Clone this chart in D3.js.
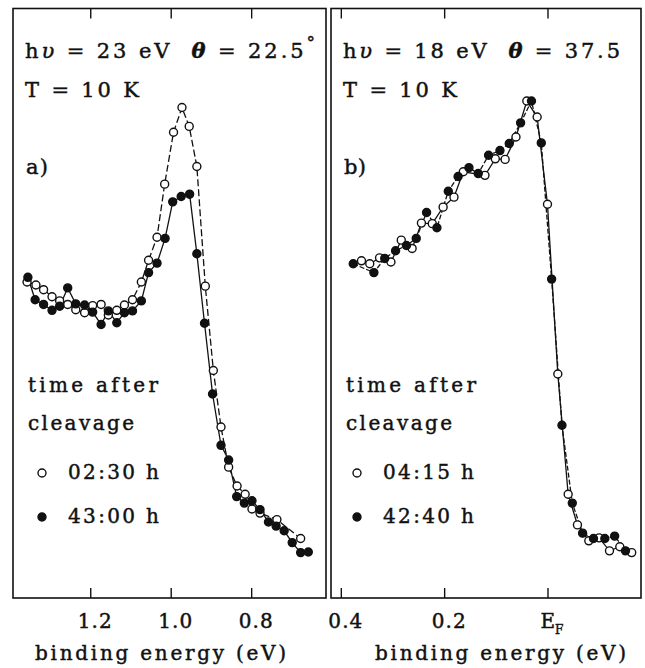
<!DOCTYPE html>
<html>
<head>
<meta charset="utf-8">
<script src="https://cdn.jsdelivr.net/npm/d3@7"></script>
<style>
  html, body { margin: 0; padding: 0; background: #fff; }
  svg text { font-family: 'DejaVu Serif', serif; fill: #111; white-space: pre; }
</style>
</head>
<body>
<svg id="chart" width="645" height="668"></svg>
<script>
// panel a) hv = 23 eV, theta = 22.5
const aOpenE = [1.357, 1.335, 1.316, 1.295, 1.276, 1.256, 1.236, 1.214, 1.194, 1.173, 1.155, 1.134, 1.115, 1.095, 1.073, 1.055, 1.034, 1.015, 0.993, 0.972, 0.954, 0.935, 0.914, 0.894, 0.875, 0.856, 0.835, 0.815, 0.798, 0.778, 0.736, 0.677]
const aOpenI = [53.6, 53.1, 52.3, 51.1, 50.4, 49.8, 48.9, 48.4, 49.6, 49.8, 48.0, 48.8, 49.7, 50.6, 53.6, 57.3, 61.2, 70.2, 79.0, 83.2, 80.0, 73.2, 52.9, 38.6, 29.0, 22.2, 19.0, 17.6, 15.1, 14.4, 13.3, 10.1]
const aFillE = [1.355, 1.337, 1.316, 1.295, 1.276, 1.256, 1.236, 1.214, 1.194, 1.173, 1.155, 1.134, 1.115, 1.095, 1.073, 1.055, 1.034, 1.014, 0.995, 0.974, 0.953, 0.935, 0.916, 0.896, 0.875, 0.856, 0.836, 0.817, 0.798, 0.778, 0.757, 0.738, 0.718, 0.698, 0.677, 0.658]
const aFillI = [54.4, 50.6, 49.8, 48.8, 49.5, 52.6, 49.9, 49.7, 48.5, 46.4, 48.7, 46.7, 48.4, 48.7, 50.4, 55.2, 56.8, 61.0, 67.2, 68.1, 68.5, 58.4, 46.6, 34.6, 25.9, 23.4, 17.2, 16.1, 16.5, 15.0, 12.9, 12.2, 11.4, 9.4, 7.7, 7.8]
const aTicks = [1.2, 1.0, 0.8]
const aLegend = ['02:30 h', '43:00 h']

// panel b) hv = 18 eV, theta = 37.5
const bOpenE = [0.360, 0.344, 0.325, 0.303, 0.283, 0.262, 0.244, 0.223, 0.202, 0.181, 0.163, 0.121, 0.101, 0.082, 0.061, 0.040, 0.020, 0.000, -0.020, -0.040, -0.058, -0.080, -0.100, -0.120, -0.140, -0.163]
const bOpenI = [57.2, 56.7, 57.7, 57.0, 60.7, 59.3, 63.6, 63.5, 66.3, 68.0, 72.3, 71.7, 74.5, 74.4, 78.2, 84.3, 81.6, 66.8, 38.0, 17.6, 12.4, 9.7, 10.2, 8.0, 8.7, 7.7]
const bFillE = [0.376, 0.336, 0.315, 0.294, 0.273, 0.254, 0.234, 0.214, 0.192, 0.173, 0.152, 0.134, 0.114, 0.092, 0.074, 0.052, 0.031, 0.012, -0.008, -0.028, -0.048, -0.068, -0.089, -0.111, -0.130, -0.151]
const bFillI = [56.7, 55.2, 57.6, 58.9, 59.8, 61.0, 65.4, 62.8, 69.0, 71.5, 73.0, 72.0, 75.1, 75.9, 77.1, 80.6, 84.3, 77.2, 54.1, 29.3, 16.1, 11.0, 10.1, 10.1, 10.5, 8.0]
const bTicks = [0.4, 0.2, 0]
const bLegend = ['04:15 h', '42:40 h']

const ink = '#111'
const frameTop = 8.5, frameBottom = 598
const svg = d3.select('#chart')
const y = d3.scaleLinear().domain([0, 100]).range([frameBottom, frameTop])

const zip = (xs, ys) => xs.map((e, i) => ({ e, v: ys[i] }))

// typewriter-ish text: serif face stretched to the scanned width
function label(g, x, yy, str, width, size = 20) {
  return g.append('text').attr('x', x).attr('y', yy)
    .attr('font-size', size).attr('stroke', ink).attr('stroke-width', 0.45)
    .attr('textLength', width).attr('lengthAdjust', 'spacing')
    .text(str)
}

function panel(opts) {
  const x = d3.scaleLinear().domain(opts.domain).range([opts.left, opts.right])
  const g = svg.append('g')

  // frame
  g.append('rect')
    .attr('x', opts.left).attr('y', frameTop)
    .attr('width', opts.right - opts.left).attr('height', frameBottom - frameTop)
    .attr('fill', 'none').attr('stroke', ink).attr('stroke-width', 1.6)

  // ticks, bottom with labels and top without
  const axB = g.append('g').attr('transform', `translate(0,${frameBottom})`)
    .call(d3.axisBottom(x).tickValues(opts.ticks).tickSizeInner(-10).tickSizeOuter(0)
      .tickFormat(d3.format('.1f')))
  const axT = g.append('g').attr('transform', `translate(0,${frameTop})`)
    .call(d3.axisTop(x).tickValues(opts.ticks).tickSizeInner(-10).tickSizeOuter(0)
      .tickFormat(''))
  ;[axB, axT].forEach(a => {
    a.select('.domain').remove()
    a.selectAll('line').attr('stroke', ink).attr('stroke-width', 1.4)
  })
  axB.selectAll('text')
    .attr('y', 30).attr('dy', null).attr('dx', 4)
    .attr('font-size', 20).attr('font-family', 'DejaVu Serif')
    .attr('fill', ink).attr('stroke', ink).attr('stroke-width', 0.45)
    .attr('textLength', 34).attr('lengthAdjust', 'spacing')
  axB.selectAll('text').filter(d => d === 0)
    .attr('textLength', null)
    .text('E')
    .append('tspan').attr('font-size', 12).attr('dy', 6).text('F')

  label(g, opts.left + opts.xLabel, 660, 'binding energy (eV)', 251)

  // header text
  const tx = opts.left + 12
  const h1 = label(g, tx, 58, '', opts.headW, 21)
  h1.append('tspan').text('h')
  h1.append('tspan').attr('font-style', 'italic').text('υ')
  h1.append('tspan').text(` = ${opts.hv} eV  `)
  h1.append('tspan').attr('font-style', 'italic').attr('font-weight', 'bold').text('θ')
  h1.append('tspan').text(` = ${opts.theta}`)
  if (opts.degree) h1.append('tspan').attr('dy', -10).attr('font-size', 17).text('°')

  label(g, tx, 97, 'T = 10 K', 114, 21)
  label(g, tx + 1, 174, opts.tag, 22, 21)

  // legend
  const lx = opts.left + opts.legendX
  label(g, lx, 392, 'time after', 130)
  label(g, lx, 430, 'cleavage', 106)
  opts.legend.forEach((lab, i) => {
    const ly = 479 + i * 44
    g.append('circle').attr('cx', lx + opts.legendDot).attr('cy', ly - 6).attr('r', 4)
      .attr('fill', i ? ink : '#fff').attr('stroke', ink).attr('stroke-width', 1.4)
    label(g, lx + opts.legendText, ly, lab, 91)
  })

  // data
  const line = d3.line().x(d => x(d.e)).y(d => y(d.v))
  const series = [
    { pts: zip(opts.openE, opts.openI), fill: '#fff', dash: opts.openDash },
    { pts: zip(opts.fillE, opts.fillI), fill: ink, dash: opts.fillDash }
  ]
  series.forEach(s => {
    g.append('path').datum(s.pts).attr('d', line)
      .attr('fill', 'none').attr('stroke', ink).attr('stroke-width', 1.3)
      .attr('stroke-dasharray', s.dash)
  })
  series.forEach(s => {
    g.append('g').selectAll('circle').data(s.pts).join('circle')
      .attr('cx', d => x(d.e)).attr('cy', d => y(d.v)).attr('r', 4)
      .attr('fill', s.fill).attr('stroke', ink).attr('stroke-width', 1.4)
  })
}

panel({
  left: 13, right: 326, domain: [1.392, 0.614], ticks: aTicks,
  xLabel: 22, headW: 290,
  hv: 23, theta: '22.5', degree: true, tag: 'a)',
  legend: aLegend, legendX: 15, legendDot: 14, legendText: 40,
  openE: aOpenE, openI: aOpenI, fillE: aFillE, fillI: aFillI,
  openDash: '7,3', fillDash: null
})

panel({
  left: 331, right: 641, domain: [0.419, -0.181], ticks: bTicks,
  xLabel: 44, headW: 277,
  hv: 18, theta: '37.5', degree: false, tag: 'b)',
  legend: bLegend, legendX: 15, legendDot: 11, legendText: 37,
  openE: bOpenE, openI: bOpenI, fillE: bFillE, fillI: bFillI,
  openDash: null, fillDash: '5,2'
})
</script>
</body>
</html>
